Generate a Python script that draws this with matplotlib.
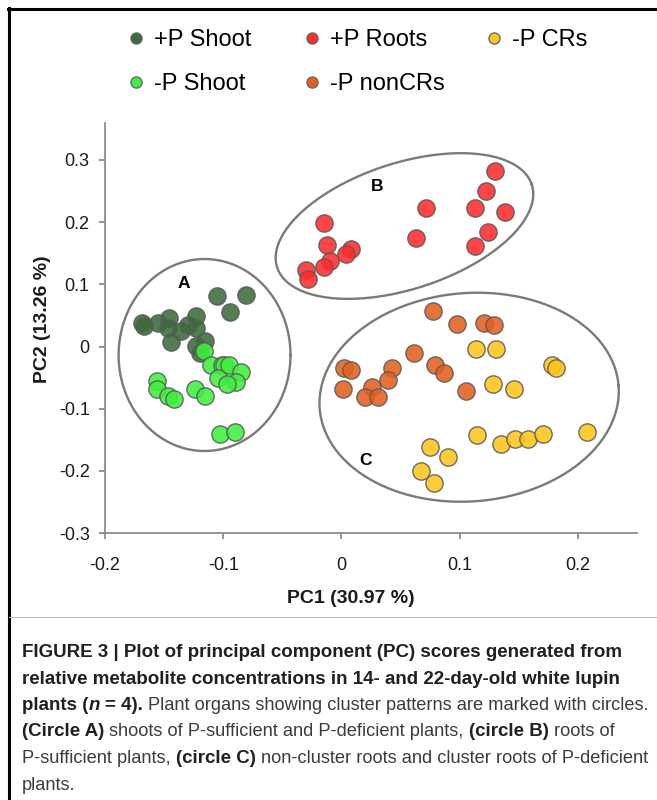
import matplotlib
matplotlib.use('Agg')
import matplotlib.pyplot as plt
import numpy as np
from matplotlib.transforms import IdentityTransform
from matplotlib.lines import Line2D

plt.rcParams['font.family'] = ['Liberation Sans', 'DejaVu Sans']

# ---------------- data ----------------
series_labels = ['+P Shoot', '-P Shoot', '+P Roots', '-P nonCRs', '-P CRs']
series_colors = ['#3b6b3b', '#3ef03e', '#ff2b2b', '#e2601f', '#ffc51c']

pp_shoot_x = [-0.105, -0.0805, -0.0945, -0.169, -0.167, -0.155, -0.146, -0.147,
              -0.136, -0.130, -0.123, -0.123, -0.144, -0.115, -0.123, -0.120]
pp_shoot_y = [0.082, 0.0825, 0.055, 0.038, 0.033, 0.038, 0.046, 0.030,
              0.025, 0.034, 0.049, 0.030, 0.007, 0.0085, 0.0005, -0.010]

mp_shoot_x = [-0.116, -0.1106, -0.101, -0.0993, -0.095, -0.085, -0.104, -0.0894,
              -0.0965, -0.1557, -0.1557, -0.147, -0.1416, -0.124, -0.115, -0.103, -0.090]
mp_shoot_y = [-0.0075, -0.029, -0.029, -0.0305, -0.0305, -0.041, -0.050, -0.057,
              -0.061, -0.056, -0.069, -0.079, -0.084, -0.069, -0.080, -0.140, -0.137]

pp_roots_x = [0.1303, 0.1219, 0.1128, 0.1382, 0.1238, 0.1128, 0.0712, 0.0627,
              -0.0148, -0.0125, 0.0078, 0.0036, -0.010, -0.0148, -0.030, -0.028]
pp_roots_y = [0.283, 0.250, 0.223, 0.217, 0.184, 0.162, 0.223, 0.174,
              0.199, 0.163, 0.157, 0.148, 0.137, 0.128, 0.123, 0.109]

mp_noncr_x = [0.0776, 0.0974, 0.1205, 0.129, 0.0613, 0.0788, 0.0866, 0.105,
              0.002, 0.0083, 0.043, 0.0396, 0.0013, 0.026, 0.0199, 0.031]
mp_noncr_y = [0.057, 0.036, 0.038, 0.034, -0.010, -0.030, -0.043, -0.072,
              -0.034, -0.037, -0.034, -0.054, -0.068, -0.065, -0.081, -0.082]

mp_cr_x = [0.114, 0.131, 0.178, 0.1816, 0.128, 0.1456, 0.1148, 0.1346,
           0.1467, 0.1577, 0.1706, 0.2078, 0.0748, 0.090, 0.067, 0.078]
mp_cr_y = [-0.004, -0.004, -0.030, -0.035, -0.061, -0.069, -0.142, -0.157,
           -0.148, -0.148, -0.140, -0.138, -0.161, -0.177, -0.200, -0.219]

x_ticks = [-0.2, -0.1, 0, 0.1, 0.2]
x_ticklabels = ['-0.2', '-0.1', '0', '0.1', '0.2']
y_ticks = [-0.3, -0.2, -0.1, 0, 0.1, 0.2, 0.3]
y_ticklabels = ['-0.3', '-0.2', '-0.1', '0', '0.1', '0.2', '0.3']

x_label = 'PC1 (30.97 %)'
y_label = 'PC2 (13.26 %)'

# cluster ellipses: centre, major-axis vector, minor-axis vector (data units), label and label pos
clusters = [
    ('A', (-0.1158, -0.0137), (0.0727, 0.0), (0.0, 0.1544), (-0.133, 0.102)),
    ('B', (0.0533, 0.1938), (0.1077, 0.0666), (-0.01646, 0.0964), (0.030, 0.258)),
    ('C', (0.108, -0.0816), (0.1264, 0.0185), (-0.00676, 0.1671), (0.0205, -0.1826)),
]

caption_lines = [
    [("FIGURE 3 | Plot of principal component (PC) scores generated from", 'b')],
    [("relative metabolite concentrations in 14- and 22-day-old white lupin", 'b')],
    [("plants (", 'b'), ("n", 'bi'), (" = 4).", 'b'),
     (" Plant organs showing cluster patterns are marked with circles.", 'r')],
    [("(Circle A)", 'b'), (" shoots of P-sufficient and P-deficient plants, ", 'r'),
     ("(circle B)", 'b'), (" roots of", 'r')],
    [("P-sufficient plants, ", 'r'), ("(circle C)", 'b'),
     (" non-cluster roots and cluster roots of P-deficient", 'r')],
    [("plants.", 'r')],
]

# ---------------- figure ----------------
W, H = 657, 800
fig = plt.figure(figsize=(W / 100, H / 100), dpi=100)
fig.patch.set_facecolor('white')


def fx(px):
    return px / W


def fy(py):
    return 1 - py / H


ax_left, ax_right, ax_bottom, ax_top = 105, 637, 533, 122.7
ax = fig.add_axes([fx(ax_left), fy(ax_bottom), (ax_right - ax_left) / W, (ax_bottom - ax_top) / H])
ax.set_xlim(-0.2, 0.25)
ax.set_ylim(-0.3, 0.36)

for s in ['top', 'right']:
    ax.spines[s].set_visible(False)
for s in ['left', 'bottom']:
    ax.spines[s].set_color('#8c8c8c')
    ax.spines[s].set_linewidth(1.3)

ax.set_xticks(x_ticks)
ax.set_xticklabels(x_ticklabels)
ax.set_yticks(y_ticks)
ax.set_yticklabels(y_ticklabels)
ax.tick_params(axis='both', direction='out', length=4, width=1.3, color='#8c8c8c',
               labelsize=13, labelcolor='#1a1a1a')
ax.tick_params(axis='x', pad=13)
ax.tick_params(axis='y', pad=7)

ax.set_xlabel(x_label, fontsize=14, fontweight='bold', va='center', color='#1a1a1a')
ax.xaxis.set_label_coords(0.462, -0.159)
ax.set_ylabel(y_label, fontsize=14, fontweight='bold', va='center', ha='center', color='#1a1a1a')
ax.yaxis.set_label_coords(-0.118, 0.5216)

# ellipses
t = np.linspace(0, 2 * np.pi, 400)
for name, c, maj, mnr, lp in clusters:
    ex = c[0] + np.cos(t) * maj[0] + np.sin(t) * mnr[0]
    ey = c[1] + np.cos(t) * maj[1] + np.sin(t) * mnr[1]
    ax.plot(ex, ey, color='#7a7a7a', lw=1.7, zorder=1)
    ax.text(lp[0], lp[1], name, fontsize=12.5, fontweight='bold', ha='center', va='center',
            color='black', zorder=5)

series = [(pp_shoot_x, pp_shoot_y), (mp_shoot_x, mp_shoot_y), (pp_roots_x, pp_roots_y),
          (mp_noncr_x, mp_noncr_y), (mp_cr_x, mp_cr_y)]
for (sx, sy), col in zip(series, series_colors):
    ax.scatter(sx, sy, s=155, facecolor=col, edgecolor='#5a5a5a', linewidth=1.0,
               alpha=0.88, zorder=3)

# legend: three columns, each placed at its marker position
handles = [Line2D([], [], marker='o', ls='', markersize=8, markerfacecolor=c,
                  markeredgecolor='#6a6a6a', markeredgewidth=1.0) for c in series_colors]
col_groups = [[0, 1], [2, 3], [4]]
col_marker_x = [136, 312, 494]
for grp, mx in zip(col_groups, col_marker_x):
    leg = fig.legend([handles[i] for i in grp], [series_labels[i] for i in grp],
                     ncol=1, loc='upper left',
                     bbox_to_anchor=(fx(mx - 7), fy(29.5)), frameon=False, fontsize=17,
                     handlelength=0.6, handletextpad=0.45, labelspacing=0.92,
                     borderpad=0, borderaxespad=0)

# frame lines (top and left) and separator
fig.add_artist(Line2D([fx(8), 1.0], [fy(9), fy(9)], color='black', lw=2.2))
fig.add_artist(Line2D([fx(9), fx(9)], [fy(8), 0.0], color='black', lw=2.2))
fig.add_artist(Line2D([fx(9), 1.0], [fy(617), fy(617)], color='#bdbdbd', lw=0.8))

# caption with mixed bold / regular runs
renderer = fig.canvas.get_renderer()
cap_family = ['Liberation Sans Narrow', 'Liberation Sans', 'DejaVu Sans']
styles = {'b': dict(fontweight='bold', color='#231f20', fontstyle='normal'),
          'bi': dict(fontweight='bold', color='#231f20', fontstyle='italic'),
          'r': dict(fontweight='normal', color='#3c3c3c', fontstyle='normal')}


def measure(s, size, st):
    tt = fig.text(0, 0, s, transform=IdentityTransform(), fontsize=size,
                  family=cap_family, **styles[st])
    w = tt.get_window_extent(renderer).width
    tt.remove()
    return w


def run_width(s, size, st):
    sw = measure('x x', size, st) - measure('xx', size, st)
    lead = len(s) - len(s.lstrip(' '))
    trail = len(s) - len(s.rstrip(' '))
    return (lead + trail) * sw + measure(s.strip(' '), size, st)


base = 10.0
w1 = measure(caption_lines[0][0][0], base, 'b')
bold_size = base * 600.0 / w1


def line_width(line, sb, sr):
    return sum(run_width(s, sb if st != 'r' else sr, st) for s, st in line)


x0 = 22
reg_sizes = []
for idx, target in [(2, 628.0), (4, 628.0)]:
    line = caption_lines[idx]
    bold_part = sum(run_width(s, bold_size, st) for s, st in line if st != 'r')
    reg_part = sum(run_width(s, base, st) for s, st in line if st == 'r')
    reg_sizes.append(base * (target - bold_part) / reg_part)
reg_size = min(reg_sizes)

baselines = [657, 683.5, 710, 736.5, 763, 789.5]
for line, py in zip(caption_lines, baselines):
    x = x0
    for s, st in line:
        size = reg_size if st == 'r' else bold_size
        sw = measure('x x', size, st) - measure('xx', size, st)
        lead = len(s) - len(s.lstrip(' '))
        trail = len(s) - len(s.rstrip(' '))
        core = s.strip(' ')
        x += lead * sw
        tt = fig.text(x, H - py, core, transform=IdentityTransform(), fontsize=size,
                      family=cap_family, va='baseline', ha='left', **styles[st])
        x += tt.get_window_extent(renderer).width + trail * sw

fig.savefig('out.png', dpi=100, facecolor='white')
